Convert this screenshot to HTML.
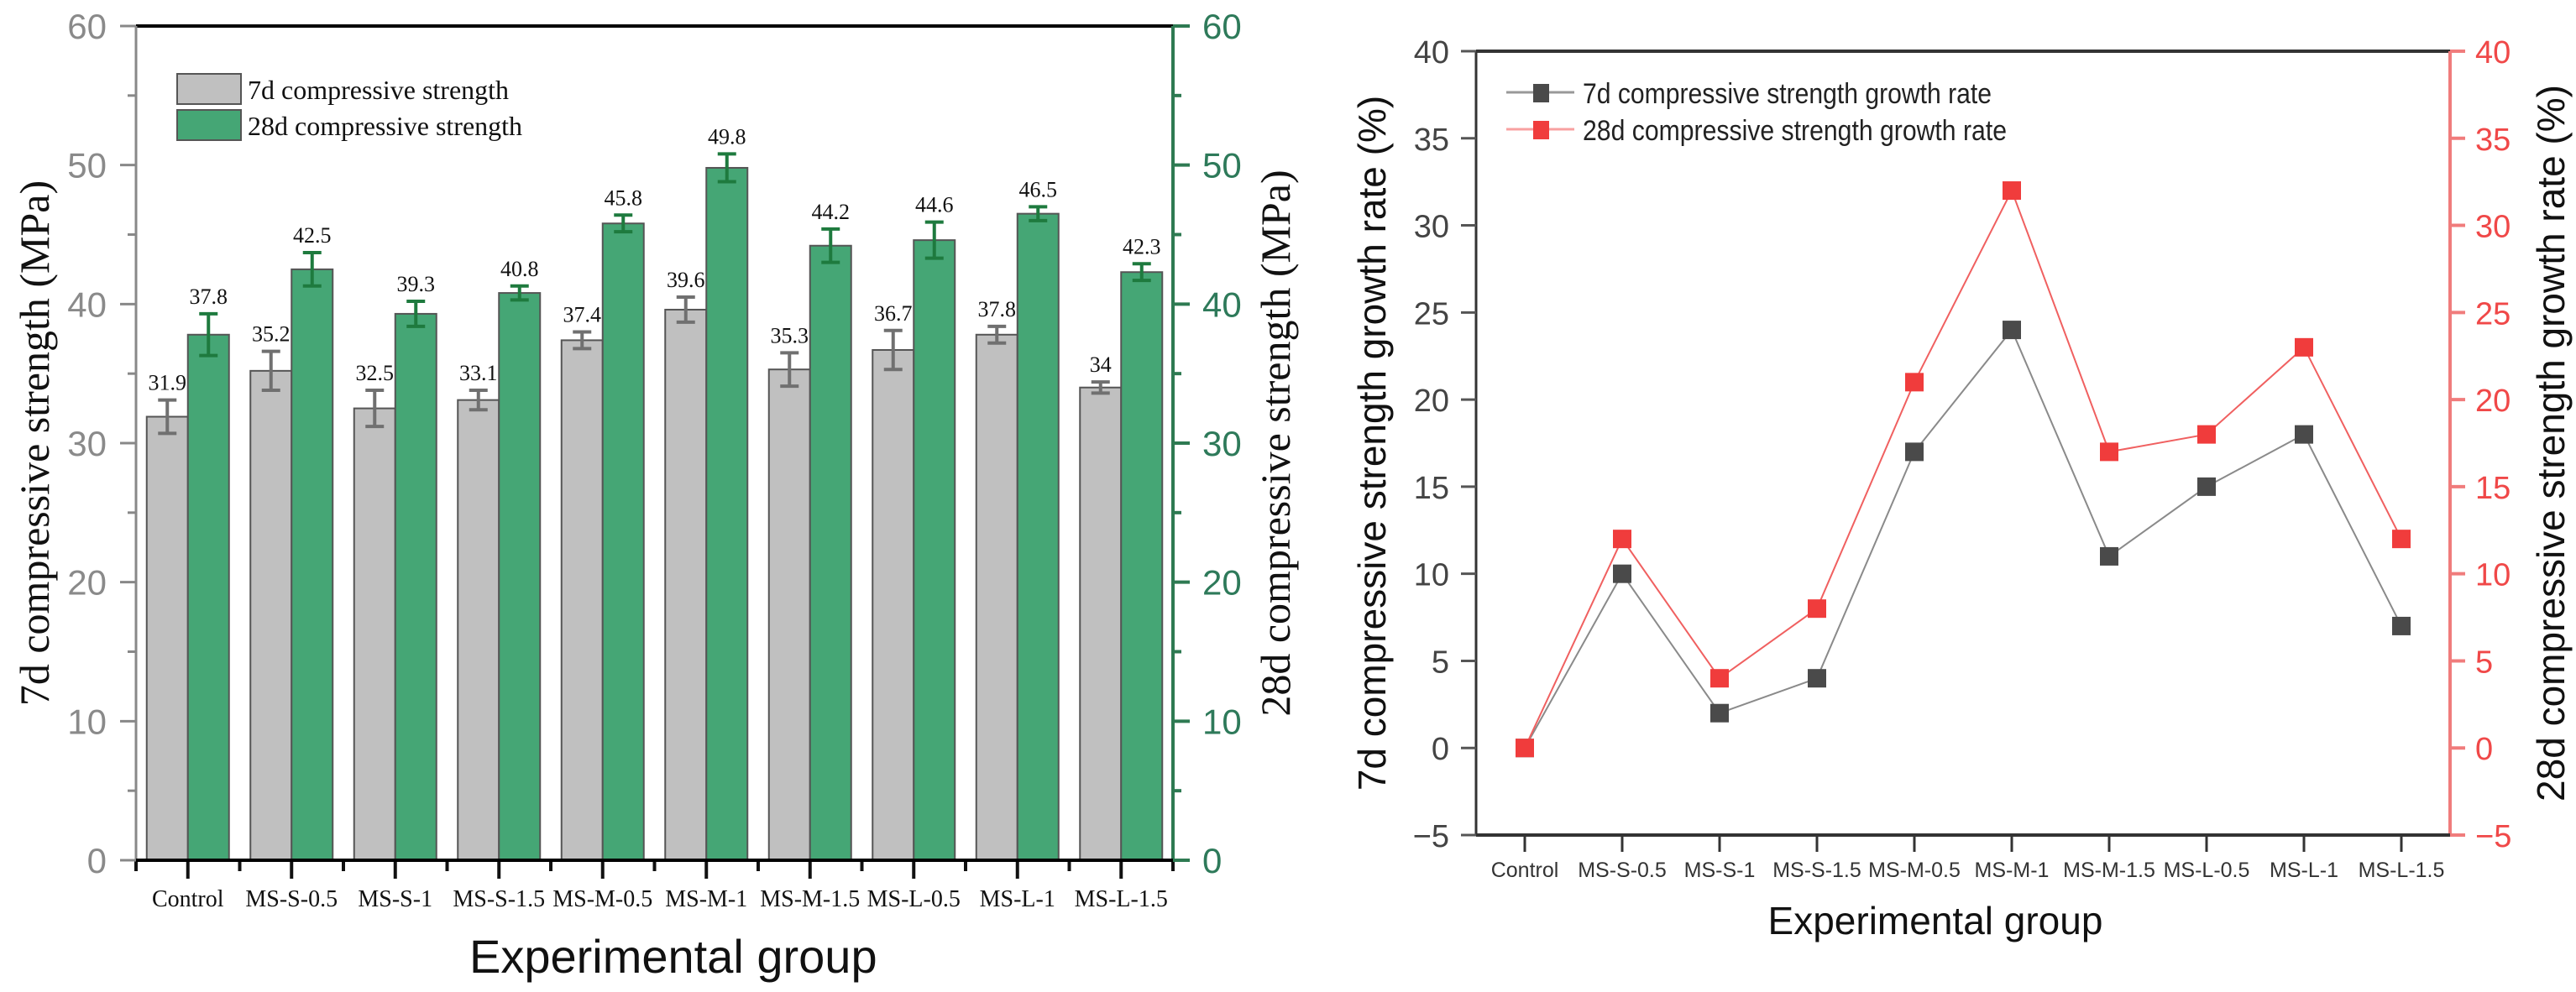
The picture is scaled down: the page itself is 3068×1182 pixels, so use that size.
<!DOCTYPE html>
<html><head><meta charset="utf-8"><style>
html,body{margin:0;padding:0;background:#fff}
svg{display:block}
</style></head><body>
<svg id="fig" width="3068" height="1182" viewBox="0 0 3068 1182" xmlns="http://www.w3.org/2000/svg">
<g id="left"></g>
<g id="right"></g>
</svg>
<script>
const categories = ["Control","MS-S-0.5","MS-S-1","MS-S-1.5","MS-M-0.5","MS-M-1","MS-M-1.5","MS-L-0.5","MS-L-1","MS-L-1.5"];
const strength7d = [31.9,35.2,32.5,33.1,37.4,39.6,35.3,36.7,37.8,34];
const strength28d = [37.8,42.5,39.3,40.8,45.8,49.8,44.2,44.6,46.5,42.3];
const err7d = [1.2,1.4,1.3,0.7,0.6,0.9,1.2,1.4,0.6,0.4];
const err28d = [1.5,1.2,0.9,0.5,0.6,1.0,1.2,1.3,0.5,0.6];
const leftTicks = [0,10,20,30,40,50,60];
const growth7d = [0,10,2,4,17,24,11,15,18,7];
const growth28d = [0,12,4,8,21,32,17,18,23,12];
const rightTicks = [-5,0,5,10,15,20,25,30,35,40];

const NS="http://www.w3.org/2000/svg";
function mk(parent,tag,attrs,text){const e=document.createElementNS(NS,tag);for(const k in attrs)e.setAttribute(k,attrs[k]);if(text!==undefined)e.textContent=text;parent.appendChild(e);return e;}

// ---------- Left chart ----------
const L=document.getElementById('left');
const lx0=162,lx1=1397,ly0=1025,ly1=31,lmax=60;
const gw=(lx1-lx0)/categories.length;
const ly=v=>ly0-(v/lmax)*(ly0-ly1);
const gx=i=>lx0+gw*(i+0.5);
const bw=49;
categories.forEach((c,i)=>{
  const cx=gx(i);
  const b1=mk(L,'rect',{x:cx-bw,y:ly(strength7d[i]),width:bw,height:ly0-ly(strength7d[i]),fill:'#c0c0c0',stroke:'#555','stroke-width':2});
  
  
  const b2=mk(L,'rect',{x:cx,y:ly(strength28d[i]),width:bw,height:ly0-ly(strength28d[i]),fill:'#45a675',stroke:'#555','stroke-width':2});
  
  
  [[cx-bw/2,strength7d[i],err7d[i],'#707070'],[cx+bw/2,strength28d[i],err28d[i],'#1e7a3e']].forEach(([x,v,e,col],k)=>{
    const g=mk(L,'g',{stroke:col,'stroke-width':4});
    
    
    mk(g,'line',{x1:x,x2:x,y1:ly(v+e),y2:ly(v-e)});
    mk(g,'line',{x1:x-11,x2:x+11,y1:ly(v+e),y2:ly(v+e)});
    mk(g,'line',{x1:x-11,x2:x+11,y1:ly(v-e),y2:ly(v-e)});
    const t=mk(L,'text',{x:x,y:ly(v+e)-12,'text-anchor':'middle','font-family':'Liberation Serif, serif','font-size':26,fill:'#111'},String(v));
    
    
  });
  const xl=mk(L,'text',{x:cx,y:1080,'text-anchor':'middle','font-family':'Liberation Serif, serif','font-size':28,fill:'#111'},c);
  
  
  mk(L,'line',{x1:cx,x2:cx,y1:ly0,y2:ly0+22,stroke:'#111','stroke-width':4});
  mk(L,'line',{x1:lx0+gw*i,x2:lx0+gw*i,y1:ly0,y2:ly0+13,stroke:'#111','stroke-width':4});
});
mk(L,'line',{x1:lx1,x2:lx1,y1:ly0,y2:ly0+13,stroke:'#111','stroke-width':4});
// axes
mk(L,'line',{x1:lx0,x2:lx1,y1:ly1,y2:ly1,stroke:'#000','stroke-width':4});
mk(L,'line',{x1:lx0,x2:lx0,y1:ly1,y2:ly0,stroke:'#888','stroke-width':3});
mk(L,'line',{x1:lx1,x2:lx1,y1:ly1,y2:ly0,stroke:'#2e7a52','stroke-width':4});
mk(L,'line',{x1:lx0,x2:lx1+2,y1:ly0,y2:ly0,stroke:'#000','stroke-width':4});
leftTicks.forEach(v=>{
  mk(L,'line',{x1:lx0-19,x2:lx0,y1:ly(v),y2:ly(v),stroke:'#888','stroke-width':3});
  mk(L,'line',{x1:lx1,x2:lx1+20,y1:ly(v),y2:ly(v),stroke:'#2e7a52','stroke-width':4});
  if(v<60){mk(L,'line',{x1:lx0-10,x2:lx0,y1:ly(v+5),y2:ly(v+5),stroke:'#888','stroke-width':3});
  mk(L,'line',{x1:lx1,x2:lx1+10,y1:ly(v+5),y2:ly(v+5),stroke:'#2e7a52','stroke-width':4});}
  const t1=mk(L,'text',{x:127,y:ly(v)+15,'text-anchor':'end','font-family':'Liberation Sans, sans-serif','font-size':42,fill:'#8a8a8a'},String(v));
  
  
  const t2=mk(L,'text',{x:1432,y:ly(v)+15,'font-family':'Liberation Sans, sans-serif','font-size':42,fill:'#2e7a5a'},String(v));
  
  
});
</script>
<script>
// static labels left
(function(){
const L=document.getElementById('left');
L.insertAdjacentHTML('beforeend',`
<text transform="translate(58,528) rotate(-90)" text-anchor="middle" font-family="Liberation Serif, serif" font-size="50" fill="#111">7d compressive strength (MPa)</text>
<text transform="translate(1536,528) rotate(-90)" text-anchor="middle" font-family="Liberation Serif, serif" font-size="50" fill="#111">28d compressive strength (MPa)</text>
<text x="559" y="1159" font-family="Liberation Sans, sans-serif" font-size="56" fill="#111">Experimental group</text>
<g>
<rect x="211" y="88" width="76" height="36" fill="#c0c0c0" stroke="#555" stroke-width="2"/>
<rect x="211" y="131" width="76" height="36" fill="#45a675" stroke="#555" stroke-width="2"/>
<text x="295" y="118" font-family="Liberation Serif, serif" font-size="32" fill="#111">7d compressive strength</text>
<text x="295" y="161" font-family="Liberation Serif, serif" font-size="32" fill="#111">28d compressive strength</text>
</g>`);
})();
</script>
<script>
// ---------- Right chart ----------
(function(){
const R=document.getElementById('right');
const rx0=1758,rx1=2918,ry0=995,ry1=61,rmin=-5,rmax=40;
const cw=(rx1-rx0)/categories.length;
const ry=v=>ry0-(v-rmin)/(rmax-rmin)*(ry0-ry1);
const cx=i=>rx0+cw*(i+0.5);
mk(R,'line',{x1:rx0,x2:rx1,y1:ry1,y2:ry1,stroke:'#333','stroke-width':4});
mk(R,'line',{x1:rx0,x2:rx0,y1:ry1,y2:ry0,stroke:'#333','stroke-width':3});
mk(R,'line',{x1:rx1,x2:rx1,y1:ry1,y2:ry0,stroke:'#f07c7c','stroke-width':4});
mk(R,'line',{x1:rx0,x2:rx1,y1:ry0,y2:ry0,stroke:'#333','stroke-width':4});
rightTicks.forEach(v=>{
  mk(R,'line',{x1:rx0-18,x2:rx0,y1:ry(v),y2:ry(v),stroke:'#555','stroke-width':3});
  mk(R,'line',{x1:rx1,x2:rx1+18,y1:ry(v),y2:ry(v),stroke:'#f07c7c','stroke-width':4});
  const t1=mk(R,'text',{x:1726,y:ry(v)+14,'text-anchor':'end','font-family':'Liberation Sans, sans-serif','font-size':38,fill:'#444'},v<0?'\u2212'+(-v):String(v));
  
  
  const t2=mk(R,'text',{x:2948,y:ry(v)+14,'font-family':'Liberation Sans, sans-serif','font-size':38,fill:'#f04848'},v<0?'\u2212'+(-v):String(v));
  
  
});
categories.forEach((c,i)=>{
  mk(R,'line',{x1:cx(i),x2:cx(i),y1:ry0,y2:ry0+20,stroke:'#333','stroke-width':3});
  const t=mk(R,'text',{x:cx(i),y:1045,'text-anchor':'middle','font-family':'Liberation Sans, sans-serif','font-size':25,fill:'#333'},c);
  
  
});
[[growth7d,'#4a4a4a','#8a8a8a','7d'],[growth28d,'#f03c3c','#f06060','28d']].forEach(([arr,mc,lc,nm])=>{
  const pl=mk(R,'polyline',{points:arr.map((v,i)=>cx(i)+','+ry(v)).join(' '),fill:'none',stroke:lc,'stroke-width':2});
  
  
  arr.forEach((v,i)=>{
    const m=mk(R,'rect',{x:cx(i)-11,y:ry(v)-11,width:22,height:22,fill:mc});
    
    
  });
});
R.insertAdjacentHTML('beforeend',`
<text transform="translate(1650,528) rotate(-90)" text-anchor="middle" font-family="Liberation Sans, sans-serif" font-size="46" fill="#111">7d compressive strength growth rate (%)</text>
<text transform="translate(3054,528) rotate(-90)" text-anchor="middle" font-family="Liberation Sans, sans-serif" font-size="46" fill="#111">28d compressive strength growth rate (%)</text>
<text x="2305" y="1113" text-anchor="middle" font-family="Liberation Sans, sans-serif" font-size="46" fill="#111">Experimental group</text>
<g>
<line x1="1794" x2="1875" y1="110" y2="110" stroke="#999" stroke-width="3"/>
<rect x="1826" y="100" width="19" height="22" fill="#4a4a4a"/>
<line x1="1794" x2="1875" y1="154" y2="154" stroke="#f8a0a0" stroke-width="3"/>
<rect x="1826" y="144" width="19" height="22" fill="#f03c3c"/>
<text x="1885" y="123" font-family="Liberation Sans, sans-serif" font-size="34" fill="#222" textLength="487" lengthAdjust="spacingAndGlyphs">7d compressive strength growth rate</text>
<text x="1885" y="167" font-family="Liberation Sans, sans-serif" font-size="34" fill="#222" textLength="505" lengthAdjust="spacingAndGlyphs">28d compressive strength growth rate</text>
</g>`);
})();
</script>
</body></html>
